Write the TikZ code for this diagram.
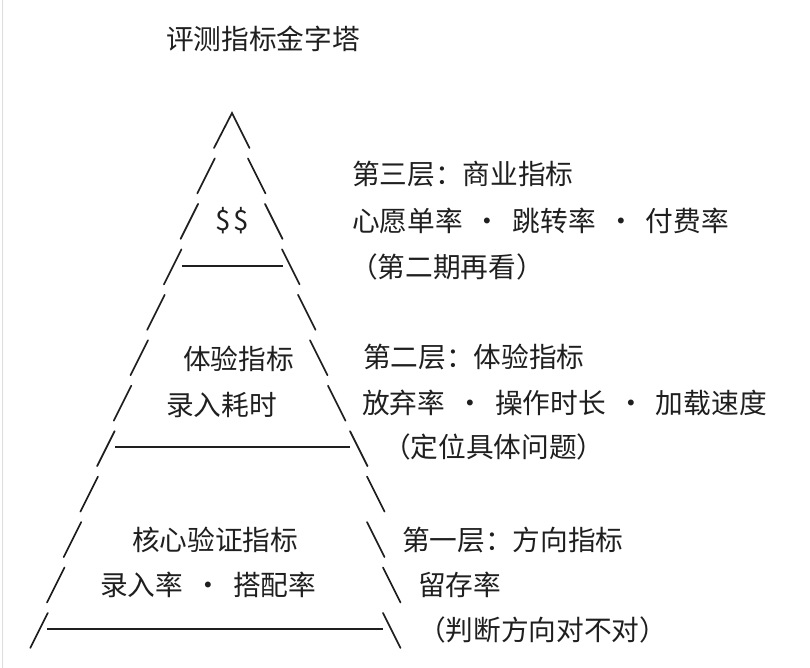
\documentclass[tikz,border=0pt]{standalone}
\usepackage{fontspec}
\newfontfamily\cjk{Noto Sans CJK SC}
\definecolor{ink}{HTML}{1F1F1F}
\definecolor{edge}{HTML}{DDDDDD}
\newcommand{\dotsep}{\makebox[50pt][c]{·}}
\begin{document}
\begin{tikzpicture}[x=1pt,y=-1pt,
  txt/.style={anchor=base west,inner sep=0pt,outer sep=0pt,text=ink,font=\cjk\fontsize{27.7}{30}\selectfont},
  slash/.style={draw=ink,line width=1.7pt,line cap=round},
  rule/.style={draw=ink,line width=2.3pt}]
\useasboundingbox (0,0) rectangle (810,668);
\fill[white] (0,0) rectangle (810,668);
\draw[edge,line width=1pt] (2,0) -- (2,668);

% title
\node[txt] (title) at (166,50) {评测指标金字塔};

% left slashes and right slashes
\foreach \n/\r in {2/248,3/265,4/282,5/298,6/310,7/328,8/350,9/367,10/367,11/383,12/383}{
  \pgfmathsetmacro{\cy}{130.5+(\n-1)*45.45}
  \pgfmathsetmacro{\lx}{214-(\n-1)*16.7}
  \draw[slash] (\lx,\cy+17.5) -- (\lx+17.5,\cy-17.5);
  \draw[slash] (\r,\cy-17.5) -- (\r+17.5,\cy+17.5);
}
% apex
\draw[slash,line join=miter] (214,148) -- (232,113) -- (249.5,148);

% horizontal rules
\draw[rule] (182,266) -- (283,266);
\draw[rule] (115,447) -- (350,447);
\draw[rule] (47,629) -- (383,629);

% inside texts
\node[txt,anchor=base] (money) at (232,230) {\$\hspace{3pt}\$};
\node[txt] (exp) at (183,369) {体验指标};
\node[txt] (time) at (166,415) {录入耗时};
\node[txt] (core) at (132,550) {核心验证指标};
\node[txt] (rates) at (100,595) {录入率\dotsep 搭配率};

% right texts
\node[txt] (l3a) at (352,185) {第三层：商业指标};
\node[txt] (l3b) at (352,231) {心愿单率\dotsep 跳转率\dotsep 付费率};
\node[txt] (l3c) at (350,277) {（第二期再看）};
\node[txt] (l2a) at (363,367) {第二层：体验指标};
\node[txt] (l2b) at (362,413) {放弃率\dotsep 操作时长\dotsep 加载速度};
\node[txt] (l2c) at (383,457) {（定位具体问题）};
\node[txt] (l1a) at (402,550) {第一层：方向指标};
\node[txt] (l1b) at (418,595) {留存率};
\node[txt] (l1c) at (418,640) {（判断方向对不对）};
\end{tikzpicture}
\end{document}
